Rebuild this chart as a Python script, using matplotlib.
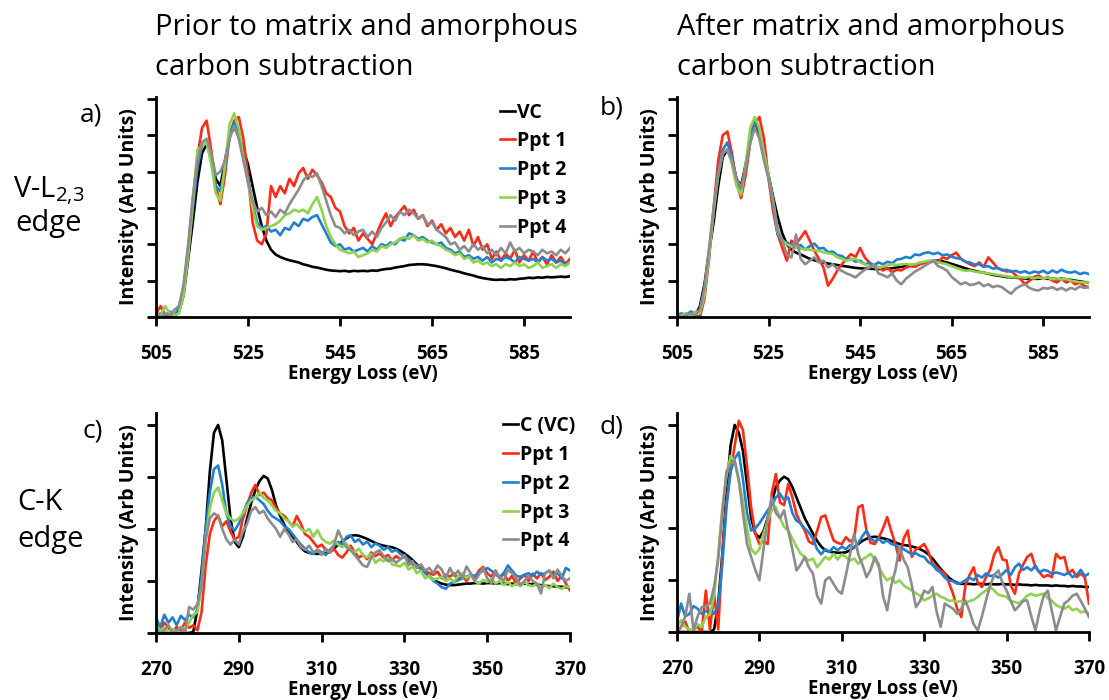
import matplotlib
matplotlib.use('Agg')
import matplotlib.pyplot as plt
import numpy as np

plt.rcParams['font.family'] = ['Open Sans', 'DejaVu Sans']
plt.rcParams['mathtext.default'] = 'regular'

# ── Energy grids (eV) ───────────────────────────────────────
ev_v = np.arange(505, 596)   # V-L2,3 edge window
ev_c = np.arange(270, 371)   # C-K edge window

# ── a) V-L2,3, prior to subtraction ─────────────────────────
a_vc = [0.05, 0.04, 0.05, 0.04, 0.05, 0.15, 0.6, 1.6, 2.6, 3.7,
        4.5, 4.75, 4.4, 3.8, 3.6, 4.3, 5.0, 5.2, 5.0, 4.6,
        4.2, 3.6, 3.0, 2.5, 2.1, 1.85, 1.72, 1.65, 1.6, 1.56,
        1.53, 1.5, 1.45, 1.42, 1.38, 1.36, 1.33, 1.3, 1.28, 1.27,
        1.26, 1.27, 1.25, 1.27, 1.26, 1.27, 1.26, 1.28, 1.27, 1.3,
        1.32, 1.33, 1.36, 1.38, 1.4, 1.43, 1.44, 1.45, 1.45, 1.44,
        1.42, 1.4, 1.37, 1.34, 1.3, 1.27, 1.24, 1.2, 1.17, 1.14,
        1.1, 1.07, 1.05, 1.03, 1.02, 1.03, 1.02, 1.04, 1.03, 1.05,
        1.06, 1.08, 1.07, 1.09, 1.08, 1.1, 1.09, 1.1, 1.11, 1.1,
        1.12]
a_p1 = [0.1, 0.3, 0.05, 0.1, 0.0, 0.2, 0.8, 1.9, 3.2, 4.4,
        5.2, 5.4, 4.6, 3.6, 3.1, 3.9, 5.0, 5.4, 5.5, 4.9,
        3.9, 2.6, 2.1, 2.0, 2.3, 3.6, 3.3, 3.6, 3.4, 3.8,
        3.6, 3.95, 4.1, 3.8, 4.05, 3.9, 3.7, 3.4, 3.3, 3.0,
        2.9, 2.5, 2.3, 2.45, 2.1, 2.3, 2.15, 2.0, 2.3, 2.6,
        2.85, 2.5, 2.75, 2.9, 3.05, 2.8, 2.95, 2.7, 2.8, 2.5,
        2.65, 2.4, 2.55, 2.3, 2.45, 2.2, 2.35, 2.1, 2.4, 1.95,
        2.2, 1.85, 2.0, 1.6, 1.8, 1.55, 1.75, 1.6, 1.85, 1.5,
        1.7, 1.55, 1.8, 1.5, 1.65, 1.45, 1.7, 1.5, 1.65, 1.45,
        1.6]
a_p2 = [0.05, 0.1, 0.0, 0.15, 0.05, 0.25, 0.8, 1.8, 3.0, 4.1,
        4.7, 4.8, 4.3, 3.6, 3.45, 4.1, 5.0, 5.35, 5.0, 4.4,
        3.8, 3.1, 2.6, 2.45, 2.5, 2.35, 2.4, 2.25, 2.45, 2.4,
        2.6, 2.5, 2.7, 2.65, 2.75, 2.8, 2.55, 2.3, 2.05, 1.95,
        2.0, 1.85, 1.9, 1.8, 1.85, 1.9, 1.8, 1.95, 1.85, 2.0,
        1.95, 2.05, 2.0, 2.15, 2.1, 2.3, 2.25, 2.15, 2.2, 2.1,
        2.05, 2.0, 2.05, 1.9, 1.85, 1.75, 1.8, 1.65, 1.7, 1.6,
        1.65, 1.55, 1.65, 1.5, 1.6, 1.55, 1.65, 1.6, 1.5, 1.65,
        1.6, 1.55, 1.6, 1.5, 1.65, 1.55, 1.6, 1.5, 1.55, 1.45,
        1.5]
a_p3 = [0.0, 0.05, 0.3, 0.1, 0.05, 0.1, 0.6, 1.7, 3.1, 4.6,
        4.7, 4.8, 4.2, 3.4, 3.2, 4.2, 5.3, 5.6, 5.2, 4.4,
        3.7, 3.0, 2.5, 2.4, 2.45, 2.5, 2.55, 2.65, 2.8, 2.85,
        2.95, 2.9, 2.95, 2.85, 3.1, 3.3, 2.95, 2.5, 2.2, 2.0,
        1.85, 1.8, 1.75, 1.8, 1.65, 1.7, 1.75, 1.85, 1.8, 1.95,
        1.9, 2.0, 2.05, 2.15, 2.2, 2.15, 2.25, 2.1, 2.15, 2.05,
        2.1, 2.0, 1.95, 1.85, 1.8, 1.7, 1.75, 1.6, 1.65, 1.5,
        1.55, 1.45, 1.5, 1.4, 1.45, 1.35, 1.45, 1.4, 1.5, 1.4,
        1.45, 1.35, 1.4, 1.5, 1.35, 1.4, 1.45, 1.35, 1.45, 1.4,
        1.5]
a_p4 = [0.15, 0.0, 0.1, 0.05, 0.2, 0.3, 0.9, 2.0, 3.3, 4.3,
        4.8, 4.9, 4.5, 3.9, 4.0, 4.3, 4.9, 5.25, 4.9, 4.3,
        3.7, 3.2, 2.9, 3.0, 2.8, 2.9, 2.75, 2.95, 2.85, 3.1,
        3.3, 3.5, 3.75, 3.9, 3.85, 3.95, 3.6, 3.2, 2.8, 2.5,
        2.45, 2.3, 2.4, 2.25, 2.35, 2.4, 2.2, 2.35, 2.2, 2.45,
        2.6, 2.8, 2.65, 2.9, 2.8, 2.95, 2.85, 2.7, 2.8, 2.55,
        2.6, 2.4, 2.3, 2.2, 2.0, 2.05, 1.85, 1.95, 1.8, 2.0,
        1.85, 1.95, 1.75, 1.85, 1.7, 1.9, 1.75, 2.05, 1.8, 1.9,
        1.75, 1.85, 1.8, 1.7, 1.85, 1.75, 1.8, 1.7, 1.85, 1.75,
        1.9]

# ── b) V-L2,3, after subtraction ────────────────────────────
b_vc = [0.03, 0.02, 0.03, 0.02, 0.03, 0.3, 0.9, 1.8, 2.6, 3.6,
        4.4, 4.6, 4.35, 3.8, 3.6, 4.2, 4.9, 5.27, 5.0, 4.4,
        3.9, 3.3, 2.75, 2.3, 2.0, 1.85, 1.77, 1.72, 1.66, 1.6,
        1.56, 1.53, 1.5, 1.47, 1.45, 1.43, 1.41, 1.39, 1.37, 1.35,
        1.34, 1.33, 1.33, 1.32, 1.32, 1.33, 1.33, 1.34, 1.36, 1.38,
        1.4, 1.42, 1.44, 1.46, 1.49, 1.52, 1.54, 1.55, 1.53, 1.5,
        1.46, 1.42, 1.38, 1.34, 1.3, 1.27, 1.24, 1.22, 1.19, 1.16,
        1.14, 1.12, 1.1, 1.09, 1.08, 1.07, 1.06, 1.05, 1.05, 1.05,
        1.06, 1.05, 1.05, 1.04, 1.05, 1.04, 1.02, 1.0, 0.98, 0.96,
        0.95]
b_p1 = [0.05, 0.0, 0.1, 0.0, 0.05, 0.0, 0.5, 1.6, 3.0, 4.3,
        5.0, 5.1, 4.5, 3.7, 3.27, 3.9, 4.8, 5.3, 5.5, 4.9,
        3.8, 2.9, 2.27, 1.9, 1.55, 2.1, 2.0, 2.18, 2.36, 2.1,
        1.82, 1.6, 1.36, 0.86, 1.05, 1.27, 1.45, 1.6, 1.73, 1.65,
        1.9, 1.64, 1.5, 1.42, 1.36, 1.28, 1.35, 1.23, 1.3, 1.28,
        1.36, 1.4, 1.38, 1.45, 1.5, 1.48, 1.55, 1.5, 1.64, 1.6,
        1.7, 1.77, 1.6, 1.52, 1.45, 1.4, 1.5, 1.38, 1.64, 1.5,
        1.35, 1.3, 1.25, 1.27, 1.15, 1.05, 0.9, 1.0, 1.1, 1.14,
        1.05, 1.1, 1.0, 0.95, 1.05, 0.95, 1.0, 0.9, 0.95, 0.85,
        0.82]
b_p2 = [0.05, 0.1, 0.05, 0.15, 0.1, 0.2, 0.7, 1.7, 2.9, 4.0,
        4.6, 4.8, 4.4, 3.7, 3.45, 4.1, 5.0, 5.4, 5.1, 4.5,
        3.9, 3.1, 2.27, 2.1, 2.05, 2.0, 1.9, 1.98, 1.85, 1.95,
        2.02, 1.88, 1.9, 1.78, 1.8, 1.7, 1.68, 1.58, 1.6, 1.52,
        1.55, 1.45, 1.48, 1.42, 1.5, 1.45, 1.52, 1.48, 1.58, 1.6,
        1.65, 1.62, 1.72, 1.7, 1.76, 1.78, 1.73, 1.77, 1.7, 1.72,
        1.66, 1.62, 1.6, 1.52, 1.5, 1.44, 1.45, 1.38, 1.4, 1.33,
        1.35, 1.28, 1.3, 1.24, 1.27, 1.22, 1.26, 1.2, 1.25, 1.22,
        1.27, 1.2, 1.28, 1.22, 1.3, 1.24, 1.22, 1.25, 1.18, 1.22,
        1.18]
b_p3 = [0.0, 0.05, 0.1, 0.0, 0.15, 0.1, 0.6, 1.7, 2.9, 3.9,
        4.5, 4.6, 4.2, 3.6, 3.36, 4.2, 5.2, 5.5, 5.2, 4.5,
        3.9, 3.2, 2.36, 2.1, 2.0, 1.95, 1.9, 1.88, 1.86, 1.85,
        1.83, 1.82, 1.78, 1.75, 1.73, 1.65, 1.6, 1.55, 1.58, 1.6,
        1.5, 1.45, 1.4, 1.38, 1.36, 1.38, 1.42, 1.45, 1.43, 1.45,
        1.46, 1.44, 1.45, 1.5, 1.52, 1.55, 1.55, 1.5, 1.48, 1.45,
        1.4, 1.35, 1.3, 1.27, 1.28, 1.25, 1.23, 1.22, 1.2, 1.18,
        1.16, 1.14, 1.12, 1.1, 1.09, 1.1, 1.08, 1.1, 1.06, 1.09,
        1.05, 1.08, 1.04, 1.06, 1.03, 1.05, 1.0, 0.98, 0.96, 0.95,
        0.95]
b_p4 = [0.05, 0.0, 0.05, 0.1, 0.05, 0.2, 0.8, 1.9, 3.0, 3.9,
        4.5, 4.6, 4.3, 3.8, 3.55, 4.1, 4.8, 5.2, 4.9, 4.3,
        3.8, 3.2, 2.4, 2.1, 1.7, 1.64, 2.27, 1.6, 1.45, 1.55,
        1.64, 1.5, 1.55, 1.36, 1.45, 1.32, 1.27, 1.2, 1.15, 1.09,
        1.2, 1.3, 1.35, 1.45, 1.2, 1.15, 1.09, 1.2, 1.0, 0.9,
        1.05, 1.15, 1.25, 1.32, 1.4, 1.48, 1.55, 1.4, 1.35, 1.27,
        1.1, 1.0, 0.9, 0.95, 0.88, 0.9, 0.95, 0.85, 0.9, 0.82,
        0.86, 0.82, 0.72, 0.64, 0.78, 0.85, 0.9, 0.8, 0.75, 0.73,
        0.8, 0.78, 0.82, 0.75, 0.8, 0.73, 0.8, 0.76, 0.84, 0.8,
        0.82]

# ── c) C-K, prior to subtraction ────────────────────────────
c_vc = [0, 0, 0, 0, 0, 0, 0, 0, 0, 0.02,
        0.45, 1.2, 2.0, 3.1, 3.85, 4.0, 3.7, 2.95, 2.2, 1.75,
        1.65, 1.85, 2.2, 2.5, 2.75, 2.92, 3.02, 2.97, 2.75, 2.45,
        2.25, 2.08, 1.96, 1.86, 1.75, 1.64, 1.57, 1.54, 1.53, 1.52,
        1.53, 1.53, 1.56, 1.62, 1.7, 1.76, 1.82, 1.87, 1.88, 1.87,
        1.84, 1.81, 1.77, 1.73, 1.7, 1.68, 1.66, 1.65, 1.62, 1.58,
        1.53, 1.47, 1.4, 1.32, 1.24, 1.16, 1.09, 1.03, 0.98, 0.95,
        0.93, 0.92, 0.92, 0.93, 0.94, 0.95, 0.95, 0.96, 0.96, 0.95,
        0.96, 0.96, 0.95, 0.96, 0.95, 0.94, 0.95, 0.94, 0.94, 0.95,
        0.94, 0.94, 0.93, 0.92, 0.91, 0.9, 0.9, 0.89, 0.89, 0.88,
        0.88]
c_p1 = [0.15, 0.05, 0.2, 0.1, 0.0, 0.12, 0.05, 0.2, 0.1, 0.15,
        0.05, 0.4, 1.3, 1.9, 2.15, 2.26, 2.05, 2.15, 1.95, 1.8,
        1.85, 2.2, 2.45, 2.7, 2.85, 2.65, 2.7, 2.6, 2.55, 2.4,
        2.3, 2.25, 2.15, 2.05, 2.25, 2.1, 1.9, 1.85, 1.75, 1.65,
        1.7, 1.6, 1.55, 1.62, 1.5, 1.45, 1.55, 1.68, 1.55, 1.45,
        1.5, 1.42, 1.55, 1.48, 1.53, 1.45, 1.5, 1.4, 1.48, 1.42,
        1.47, 1.38, 1.32, 1.3, 1.25, 1.2, 1.15, 1.12, 1.18, 1.05,
        1.12, 1.08, 1.15, 1.02, 1.1, 1.0, 1.12, 1.05, 1.2, 1.27,
        1.15, 1.08, 1.2, 1.05, 1.15, 1.0, 1.1, 0.95, 1.05, 1.12,
        1.0, 1.14, 1.05, 1.15, 1.02, 1.08, 1.18, 1.0, 1.1, 0.95,
        0.82]
c_p2 = [0.3, 0.1, 0.35, 0.2, 0.3, 0.15, 0.33, 0.25, 0.35, 0.3,
        0.45, 1.1, 2.0, 2.7, 3.15, 3.22, 2.85, 2.3, 2.05, 1.97,
        2.1, 2.3, 2.5, 2.6, 2.62, 2.55, 2.48, 2.35, 2.25, 2.2,
        2.15, 2.05, 2.0, 1.9, 1.8, 1.7, 1.62, 1.55, 1.52, 1.6,
        1.55, 1.5, 1.6, 1.68, 1.75, 1.7, 1.85, 1.88, 1.75, 1.8,
        1.7, 1.76, 1.65, 1.72, 1.68, 1.6, 1.65, 1.56, 1.6, 1.52,
        1.48, 1.42, 1.35, 1.3, 1.22, 1.15, 1.1, 1.0, 0.95, 0.88,
        0.85, 0.95, 0.98, 1.02, 1.05, 1.08, 1.12, 1.1, 1.15, 1.2,
        1.25, 1.2, 1.12, 1.08, 1.15, 1.3, 1.2, 1.1, 1.08, 1.12,
        1.15, 1.1, 1.18, 1.12, 1.15, 1.2, 1.1, 1.15, 1.05, 1.25,
        1.2]
c_p3 = [0.15, 0.05, 0.1, 0.0, 0.08, 0.02, 0.12, 0.05, 0.2, 0.35,
        0.4, 0.9, 1.8, 2.4, 2.7, 2.8, 2.55, 2.3, 2.2, 2.15,
        2.2, 2.3, 2.45, 2.55, 2.6, 2.7, 2.6, 2.55, 2.45, 2.35,
        2.3, 2.2, 2.15, 2.05, 2.1, 2.0, 1.95, 2.0, 1.85, 1.98,
        1.82, 1.75, 1.72, 1.78, 1.7, 1.65, 1.72, 1.6, 1.55, 1.62,
        1.5, 1.45, 1.52, 1.35, 1.42, 1.38, 1.45, 1.32, 1.3, 1.28,
        1.35, 1.22, 1.28, 1.15, 1.2, 1.05, 1.1, 1.02, 1.05, 1.08,
        1.0, 1.05, 0.98, 1.1, 1.15, 1.05, 1.12, 1.0, 0.95, 1.02,
        0.98, 1.05, 0.95, 1.0, 0.92, 0.98, 0.9, 0.95, 0.9, 0.98,
        0.92, 0.9, 0.95, 0.88, 0.92, 0.86, 0.95, 0.88, 0.85, 0.9,
        0.88]
c_p4 = [0.1, 0.0, 0.05, 0.15, 0.0, 0.05, 0.1, 0.0, 0.5, 0.45,
        0.55, 0.9, 1.8, 2.2, 2.3, 2.25, 2.0, 1.8, 1.7, 1.8,
        1.7, 1.95, 2.1, 2.35, 2.42, 2.3, 2.35, 2.2, 2.1, 2.0,
        1.85, 2.0, 1.9, 1.75, 1.8, 1.65, 1.6, 1.68, 1.55, 1.6,
        1.5, 1.62, 1.55, 1.7, 1.97, 1.8, 1.65, 1.59, 1.5, 1.4,
        1.3, 1.27, 1.45, 1.55, 1.59, 1.48, 1.38, 1.42, 1.35, 1.42,
        1.5, 1.3, 1.38, 1.25, 1.32, 1.2, 1.25, 1.15, 1.3, 1.22,
        1.05, 1.25, 1.1, 1.2, 1.05, 1.28, 1.15, 1.0, 1.12, 1.25,
        1.05, 0.95, 1.18, 1.08, 1.0, 1.22, 1.15, 1.05, 0.92, 1.0,
        1.1, 1.0, 0.95, 0.76, 1.15, 1.2, 1.05, 1.22, 1.1, 1.0,
        1.05]

# ── d) C-K, after subtraction ───────────────────────────────
d_vc = [0, 0, 0, 0, 0, 0, 0, 0, 0, 0.05,
        0.55, 1.5, 2.7, 3.6, 4.0, 3.85, 3.5, 2.85, 2.2, 1.9,
        1.82, 1.95, 2.2, 2.5, 2.8, 2.93, 3.0, 2.95, 2.8, 2.6,
        2.4, 2.2, 2.05, 1.9, 1.76, 1.65, 1.58, 1.55, 1.54, 1.53,
        1.53, 1.54, 1.58, 1.64, 1.7, 1.76, 1.8, 1.83, 1.84, 1.83,
        1.81, 1.79, 1.76, 1.73, 1.7, 1.68, 1.67, 1.65, 1.63, 1.6,
        1.56, 1.5, 1.42, 1.32, 1.22, 1.13, 1.05, 0.99, 0.95, 0.93,
        0.93, 0.93, 0.92, 0.93, 0.93, 0.92, 0.93, 0.92, 0.92, 0.93,
        0.92, 0.92, 0.91, 0.92, 0.91, 0.91, 0.9, 0.91, 0.9, 0.9,
        0.9, 0.89, 0.9, 0.89, 0.89, 0.88, 0.89, 0.88, 0.88, 0.87,
        0.87]
d_p1 = [0.0, 0.1, 0.2, 0.0, 0.05, 0.1, 0.0, 0.8, 0.05, 0.74,
        0.05, 1.5, 2.5, 3.1, 3.6, 4.08, 3.9, 3.2, 2.4, 1.9,
        1.7, 1.75, 1.7, 2.68, 3.05, 2.5, 2.45, 2.86, 2.6, 2.28,
        2.1, 1.96, 1.75, 1.7, 1.95, 2.22, 2.25, 2.0, 1.77, 1.72,
        1.7, 1.83, 1.75, 1.8, 2.41, 2.45, 1.95, 1.72, 1.7, 1.83,
        2.0, 2.22, 1.95, 1.7, 1.38, 1.8, 1.96, 1.45, 1.6, 1.64,
        1.7, 1.55, 1.32, 1.25, 1.19, 1.13, 0.95, 0.74, 0.45, 0.29,
        0.9, 1.1, 1.25, 0.95, 0.87, 1.06, 1.2, 1.5, 1.64, 1.4,
        1.38, 0.9, 0.74, 1.13, 1.3, 1.45, 1.51, 1.25, 1.15, 1.06,
        1.1, 1.06, 1.51, 1.42, 1.45, 1.13, 1.2, 1.06, 1.13, 1.05,
        0.55]
d_p2 = [0.2, 0.55, 0.3, 0.35, 0.5, 0.45, 0.35, 0.4, 0.42, 0.35,
        0.5, 1.3, 2.4, 3.1, 3.35, 3.47, 2.95, 2.3, 1.96, 2.0,
        2.1, 2.22, 2.35, 2.45, 2.6, 2.67, 2.55, 2.6, 2.3, 2.15,
        2.1, 2.0, 1.92, 1.8, 1.6, 1.5, 1.6, 1.55, 1.64, 1.58,
        1.65, 1.6, 1.68, 1.62, 1.72, 1.85, 1.96, 1.8, 1.75, 1.8,
        1.72, 1.77, 1.7, 1.68, 1.62, 1.6, 1.55, 1.5, 1.52, 1.47,
        1.45, 1.35, 1.3, 1.2, 1.15, 1.05, 1.0, 0.98, 0.93, 0.95,
        1.0, 1.05, 1.0, 1.1, 1.05, 1.13, 1.08, 1.1, 1.05, 1.12,
        1.2, 1.1, 1.25, 1.32, 1.2, 1.25, 1.19, 1.28, 1.15, 1.2,
        1.18, 1.12, 1.15, 1.13, 1.1, 1.15, 1.06, 1.1, 1.2, 1.08,
        1.13]
d_p3 = [0.1, 0.23, 0.1, 0.05, 0.03, 0.15, 0.1, 0.29, 0.35, 0.7,
        1.5, 2.4, 3.0, 3.4, 3.3, 2.9, 2.54, 2.0, 1.6, 1.51,
        1.6, 1.9, 2.15, 2.35, 2.41, 2.2, 2.03, 1.96, 1.8, 1.65,
        1.51, 1.45, 1.38, 1.42, 1.25, 1.35, 1.45, 1.4, 1.51, 1.4,
        1.5, 1.45, 1.38, 1.42, 1.32, 1.4, 1.45, 1.51, 1.4, 1.25,
        1.1, 1.0, 1.05, 0.95, 1.0, 0.9, 0.85, 0.8, 0.75, 0.7,
        0.61, 0.65, 0.7, 0.74, 0.68, 0.65, 0.6, 0.61, 0.58, 0.6,
        0.55, 0.6, 0.62, 0.68, 0.75, 0.8, 0.87, 0.8, 0.72, 0.7,
        0.68, 0.6, 0.58, 0.55, 0.62, 0.7, 0.74, 0.7, 0.72, 0.74,
        0.65, 0.6, 0.52, 0.48, 0.45, 0.5, 0.42, 0.45, 0.38, 0.4,
        0.35]
d_p4 = [0.05, 0.1, 0.3, 0.74, 0.03, 0.3, 0.48, 0.5, 0.55, 0.87,
        1.4, 2.3, 3.1, 3.25, 3.31, 2.95, 2.3, 1.7, 1.45, 1.2,
        1.0, 1.6, 2.2, 2.6, 2.3, 2.2, 2.35, 1.95, 1.6, 1.19,
        1.3, 1.45, 1.25, 1.13, 0.7, 0.55, 1.0, 1.06, 0.93, 0.8,
        0.74, 1.1, 1.5, 1.9, 1.5, 1.3, 1.06, 1.2, 1.45, 1.3,
        0.7, 0.42, 0.9, 1.19, 1.64, 1.4, 1.25, 0.9, 0.48, 0.6,
        0.8, 0.75, 0.87, 0.4, 0.1, 0.55, 0.5, 0.45, 0.35, 0.45,
        0.61, 0.4, 0.15, 0.03, 0.3, 0.61, 0.9, 1.1, 1.19, 0.95,
        0.8, 0.6, 0.42, 0.5, 0.6, 0.61, 0.3, 0.03, 0.4, 0.7,
        0.8, 0.4, 0.03, 0.3, 0.55, 0.61, 0.7, 0.74, 0.6, 0.45,
        0.29]

v_labels = ['VC', 'Ppt 1', 'Ppt 2', 'Ppt 3', 'Ppt 4']
c_labels = ['C (VC)', 'Ppt 1', 'Ppt 2', 'Ppt 3', 'Ppt 4']
v_ticks = [505, 525, 545, 565, 585]
c_ticks = [270, 290, 310, 330, 350, 370]

COLORS = ['#000000', '#ff2a14', '#1f80d2', '#8fd24c', '#8c8c8c']
LW = 1.9

fig = plt.figure(figsize=(11.09, 7), dpi=100)
fig.patch.set_facecolor('white')

W, H = 1109.0, 700.0
def px_axes(x0, y_top, x1, y_bot):
    return fig.add_axes([x0 / W, 1 - y_bot / H, (x1 - x0) / W, (y_bot - y_top) / H])

def fig_text(x, y, s, **kw):
    return fig.text(x / W, 1 - y / H, s, **kw)

ax_a = px_axes(156, 97, 570, 317)
ax_b = px_axes(677, 97, 1089, 317)
ax_c = px_axes(156, 413, 570, 633)
ax_d = px_axes(677, 413, 1089, 632)


def draw_panel(ax, ev, series, xlim, xticks, ylim, yticks):
    lines = []
    for ys, col in zip(series, COLORS):
        ln, = ax.plot(ev, ys, color=col, lw=LW, solid_joinstyle='round')
        lines.append(ln)
    ax.set_xlim(*xlim)
    ax.set_ylim(*ylim)
    ax.set_xticks(xticks)
    ax.set_yticks(yticks)
    ax.set_yticklabels([])
    for side in ('top', 'right'):
        ax.spines[side].set_visible(False)
    for side in ('left', 'bottom'):
        ax.spines[side].set_linewidth(2.0)
    ax.tick_params(axis='both', direction='out', length=6.5, width=2.0)
    ax.tick_params(axis='x', pad=13, labelsize=13.5)
    for lab in ax.get_xticklabels():
        lab.set_fontweight('bold')
    ax.set_xlabel('Energy Loss (eV)', fontsize=13.5, fontweight='bold', labelpad=0)
    ax.set_ylabel('Intensity (Arb Units)', fontsize=14, fontweight='bold', labelpad=2)
    return lines


la = draw_panel(ax_a, ev_v, [a_vc, a_p1, a_p2, a_p3, a_p4],
                (505, 595), v_ticks, (0, 6.05), range(0, 7))
draw_panel(ax_b, ev_v, [b_vc, b_p1, b_p2, b_p3, b_p4],
           (505, 595), v_ticks, (0, 6.05), range(0, 7))
lc = draw_panel(ax_c, ev_c, [c_vc, c_p1, c_p2, c_p3, c_p4],
                (270, 370), c_ticks, (0, 4.23), range(0, 5))
draw_panel(ax_d, ev_c, [d_vc, d_p1, d_p2, d_p3, d_p4],
           (270, 370), c_ticks, (0, 4.23), range(0, 5))

leg_kw = dict(loc='upper left', frameon=False, handlelength=0.75,
              handletextpad=0.1, labelspacing=0.45, borderaxespad=0,
              borderpad=0, prop={'weight': 'bold', 'size': 14})
ax_a.legend(la, v_labels, bbox_to_anchor=((500 - 156) / 414, 0.975), **leg_kw)
ax_c.legend(lc, c_labels, bbox_to_anchor=((503 - 156) / 414, 0.985), **leg_kw)

# column headings
for x0, first in [(155, 'Prior to matrix and amorphous'),
                  (677, 'After matrix and amorphous')]:
    fig_text(x0, 35, first, fontsize=21, ha='left', va='baseline')
    fig_text(x0, 75, 'carbon subtraction', fontsize=21, ha='left', va='baseline')

# panel letters
for lbl, x, y in [('a)', 80, 115), ('b)', 600, 108), ('c)', 82, 431), ('d)', 600, 427)]:
    fig_text(x, y, lbl, fontsize=19, ha='left', va='center')

# edge names
fig_text(13, 197, 'V-L$_{\\mathregular{2{,}3}}$', fontsize=21, ha='left', va='baseline')
fig_text(15, 231, 'edge', fontsize=21, ha='left', va='baseline')
fig_text(17, 510, 'C-K', fontsize=21, ha='left', va='baseline')
fig_text(17, 547, 'edge', fontsize=21, ha='left', va='baseline')

fig.savefig('out.png', dpi=100, facecolor='white')
